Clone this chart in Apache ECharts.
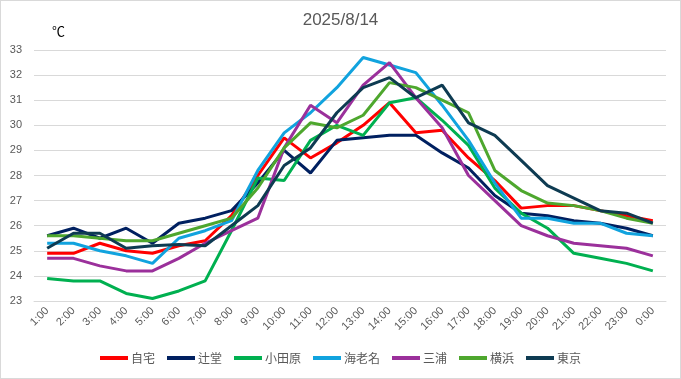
<!DOCTYPE html>
<html>
<head>
<meta charset="utf-8">
<script src="https://cdn.jsdelivr.net/npm/echarts@6/dist/echarts.min.js"></script>
<style>
html,body{margin:0;padding:0;background:#fff;}
#c{width:681px;height:379px;box-sizing:border-box;border:1px solid #d9d9d9;}
</style>
</head>
<body>
<div id="c"></div>
<script>
const categories = ["1:00","2:00","3:00","4:00","5:00","6:00","7:00","8:00","9:00","10:00","11:00","12:00","13:00","14:00","15:00","16:00","17:00","18:00","19:00","20:00","21:00","22:00","23:00","0:00"];
const seriesNames = ["自宅","辻堂","小田原","海老名","三浦","横浜","東京"];
const jitaku   = [24.9,24.9,25.3,25.0,24.9,25.2,25.4,26.4,28.0,29.5,28.7,29.3,30.0,30.9,29.7,29.8,28.7,27.8,26.7,26.8,26.8,26.6,26.4,26.2];
const tsujido  = [25.6,25.9,25.5,25.9,25.3,26.1,26.3,26.6,27.7,29.0,28.1,29.4,29.5,29.6,29.6,28.9,28.3,27.2,26.5,26.4,26.2,26.1,25.9,25.6];
const odawara  = [23.9,23.8,23.8,23.3,23.1,23.4,23.8,25.8,27.9,27.8,29.4,30.0,29.6,30.9,31.1,30.2,29.2,27.5,26.5,25.9,24.9,24.7,24.5,24.2];
const ebina    = [25.3,25.3,25.0,24.8,24.5,25.5,25.8,26.2,28.2,29.7,30.5,31.5,32.7,32.4,32.1,30.8,29.4,27.7,26.3,26.3,26.1,26.1,25.7,25.6];
const miura    = [24.7,24.7,24.4,24.2,24.2,24.7,25.3,25.8,26.3,29.1,30.8,30.1,31.6,32.5,31.1,29.9,28.0,27.0,26.0,25.6,25.3,25.2,25.1,24.8];
const yokohama = [25.6,25.6,25.5,25.4,25.4,25.7,26.0,26.3,27.5,29.1,30.1,29.9,30.4,31.7,31.5,31.0,30.5,28.2,27.4,26.9,26.8,26.6,26.3,26.1];
const tokyo    = [25.1,25.7,25.7,25.1,25.2,25.25,25.2,26.0,26.8,28.4,29.1,30.5,31.5,31.9,31.1,31.6,30.1,29.6,28.6,27.6,27.1,26.6,26.5,26.1];
const seriesData = [jitaku,tsujido,odawara,ebina,miura,yokohama,tokyo];
const colors = ["#FF0000","#002060","#00B050","#11A3DE","#9B309B","#4EA72E","#0E3B52"];

const chart = echarts.init(document.getElementById('c'));
chart.setOption({
  animation:false,
  title:[
    {text:"2025/8/14", left:'center', top:6, textStyle:{fontSize:17, fontWeight:'normal', color:'#595959', fontFamily:'Liberation Sans, Arial, sans-serif'}},
    {text:"℃", left:46, top:19, textStyle:{fontSize:13, fontWeight:'normal', color:'#000', fontFamily:'Noto Sans CJK JP, sans-serif'}}
  ],
  grid:{left:33, right:14, top:49, bottom:77, containLabel:false},
  legend:{
    bottom:9, left:'center', icon:'rect', itemWidth:28, itemHeight:4, itemGap:12,
    textStyle:{fontSize:12, color:'#595959', fontFamily:'Noto Sans CJK JP, sans-serif', padding:[0,0,0,-2]},
    data:seriesNames
  },
  xAxis:{
    type:'category', data:categories, boundaryGap:true,
    axisLine:{show:true, lineStyle:{color:'#d9d9d9'}},
    axisTick:{show:false},
    axisLabel:{rotate:45, fontSize:11, color:'#595959', margin:8, interval:0, fontFamily:'Liberation Sans, Arial, sans-serif'}
  },
  yAxis:{
    type:'value', min:23, max:33, interval:1,
    axisLine:{show:false}, axisTick:{show:false},
    axisLabel:{fontSize:11, color:'#595959', margin:12, fontFamily:'Liberation Sans, Arial, sans-serif'},
    splitLine:{lineStyle:{color:'#d9d9d9', width:1}}
  },
  series: seriesNames.map((n,i)=>({
    name:n, type:'line', data:seriesData[i], showSymbol:false, symbol:'none',
    lineStyle:{width:3, color:colors[i]}, itemStyle:{color:colors[i]}
  }))
});
</script>
</body>
</html>
